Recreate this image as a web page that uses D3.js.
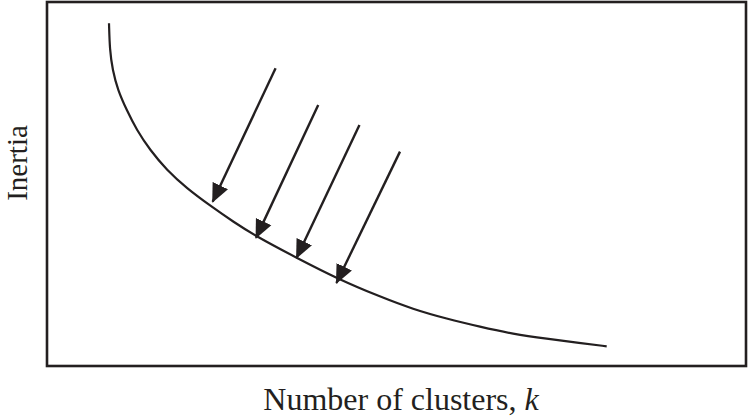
<!DOCTYPE html>
<html>
<head>
<meta charset="utf-8">
<script src="https://cdn.jsdelivr.net/npm/d3@7"></script>
<style>
  body { margin: 0; background: #fff; }
  svg { display: block; }
</style>
</head>
<body>
<div id="chart"></div>
<script>
// Elbow curve, in plot units (0..100 on both axes)
const curveX = [8.87, 8.98, 9.38, 10.13, 11.40, 12.83, 14.74, 17.12, 19.99, 23.56, 26.65, 30.00, 35.77, 41.63, 47.64, 52.36, 57.18, 61.95, 66.67, 71.49, 76.25, 80.07];
const curveY = [94.15, 86.81, 81.32, 75.82, 70.33, 64.84, 59.34, 53.85, 48.82, 43.76, 39.64, 35.52, 29.67, 23.90, 19.04, 15.6, 12.97, 10.77, 8.79, 7.47, 6.32, 5.41];

// Arrows: start and tip
const arrowX0 = [32.7, 38.8, 44.7, 50.5];
const arrowY0 = [81.8, 71.7, 66.2, 58.9];
const arrowX1 = [23.7, 29.9, 35.7, 41.4];
const arrowY1 = [45.1, 35.2, 29.7, 22.8];

const xLabel = 'Number of clusters, ';
const xLabelVar = 'k';
const yLabel = 'Inertia';

const width = 749, height = 419;
const box = { left: 47, top: 2, right: 746, bottom: 366 };

const svg = d3.select('#chart').append('svg')
    .attr('width', width)
    .attr('height', height);

const x = d3.scaleLinear().domain([0, 100]).range([box.left, box.right]);
const y = d3.scaleLinear().domain([0, 100]).range([box.bottom, box.top]);

svg.append('defs').append('marker')
    .attr('id', 'head')
    .attr('viewBox', '0 -9 19 18')
    .attr('refX', 18)
    .attr('refY', 0)
    .attr('markerUnits', 'userSpaceOnUse')
    .attr('markerWidth', 19)
    .attr('markerHeight', 18)
    .attr('orient', 'auto')
    .append('path')
    .attr('d', 'M0,-8.5L19,0L0,8.5Z')
    .attr('fill', '#231f20');

// frame
svg.append('rect')
    .attr('x', box.left)
    .attr('y', box.top)
    .attr('width', box.right - box.left)
    .attr('height', box.bottom - box.top)
    .attr('fill', 'none')
    .attr('stroke', '#231f20')
    .attr('stroke-width', 2.6);

// basis smooths out the small reading errors in the points
const line = d3.line()
    .x(i => x(curveX[i]))
    .y(i => y(curveY[i]))
    .curve(d3.curveBasis);

svg.append('path')
    .attr('d', line(d3.range(curveX.length)))
    .attr('fill', 'none')
    .attr('stroke', '#231f20')
    .attr('stroke-width', 2.2);

svg.selectAll('line.arrow')
    .data(d3.range(arrowX0.length))
    .enter().append('line')
    .attr('class', 'arrow')
    .attr('x1', i => x(arrowX0[i]))
    .attr('y1', i => y(arrowY0[i]))
    .attr('x2', i => x(arrowX1[i]))
    .attr('y2', i => y(arrowY1[i]))
    .attr('stroke', '#231f20')
    .attr('stroke-width', 2.4)
    .attr('marker-end', 'url(#head)');

const font = '"Liberation Serif", "Times New Roman", serif';

const xt = svg.append('text')
    .attr('x', 401)
    .attr('y', 410)
    .attr('text-anchor', 'middle')
    .attr('font-family', font)
    .attr('font-size', 32)
    .attr('fill', '#231f20')
    .text(xLabel);
xt.append('tspan')
    .attr('font-style', 'italic')
    .text(xLabelVar);

svg.append('text')
    .attr('transform', 'translate(27,163) rotate(-90)')
    .attr('text-anchor', 'middle')
    .attr('font-family', font)
    .attr('font-size', 29)
    .attr('fill', '#231f20')
    .text(yLabel);
</script>
</body>
</html>
